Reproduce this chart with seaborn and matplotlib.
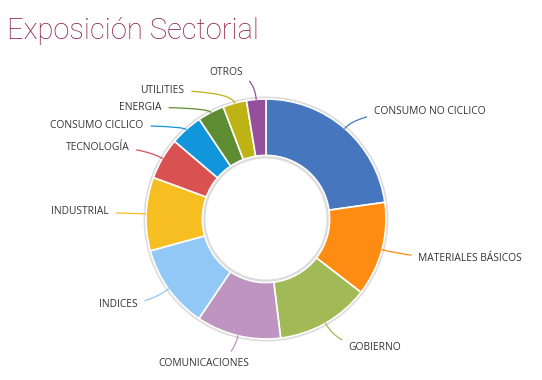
import numpy as np
import seaborn as sns
import matplotlib.pyplot as plt
from matplotlib.patches import Wedge

# sector exposure (percent), clockwise from 12 o'clock
sectors = ["CONSUMO NO CICLICO", "MATERIALES BÁSICOS", "GOBIERNO", "COMUNICACIONES",
           "INDICES", "INDUSTRIAL", "TECNOLOGÍA", "CONSUMO CICLICO", "ENERGIA",
           "UTILITIES", "OTROS"]
weights = [22.8, 12.7, 12.6, 11.4, 11.3, 9.9, 5.6, 4.4, 3.6, 3.2, 2.6]
colors = ["#4677BE", "#FF8C12", "#A2BA55", "#BE95C0", "#91C8F5", "#F7BE22",
          "#D95151", "#1196DB", "#5E8C33", "#BDB315", "#94509A"]

# where each label text sits (data units, radius 1 = outer edge) and its alignment
label_pos = [(0.90, 0.90), (1.27, -0.33), (0.69, -1.07), (-0.14, -1.20),
             (-1.07, -0.71), (-1.31, 0.06), (-1.14, 0.60), (-1.02, 0.78),
             (-0.87, 0.93), (-0.68, 1.07), (-0.19, 1.22)]
label_ha = ["left", "left", "left", "right", "right", "right", "right",
            "right", "right", "right", "right"]

sns.set_theme(style="white")
plt.rcParams["font.family"] = ["Open Sans", "DejaVu Sans"]

fig = plt.figure(figsize=(5.42, 3.80), dpi=100)
fig.patch.set_facecolor("white")
ax = fig.add_axes([116 / 542, 11 / 380, 300 / 542, 300 / 380])
ax.set_xlim(-1.23, 1.23)
ax.set_ylim(-1.23, 1.23)
ax.set_aspect("equal")
ax.axis("off")

# faint shadow on both edges of the ring, like the original
ax.add_patch(Wedge((0, 0), 1.015, 0, 360, width=0.505, color="#dcdcdc", zorder=0))

wedges, _ = ax.pie(weights, colors=colors, startangle=90, counterclock=False,
                   radius=1.0, wedgeprops=dict(width=0.47, edgecolor="white", linewidth=1.2))

for w, name, col, (tx, ty), ha in zip(wedges, sectors, colors, label_pos, label_ha):
    mid = np.deg2rad((w.theta1 + w.theta2) / 2)
    px, py = 1.0 * np.cos(mid), 1.0 * np.sin(mid)
    ax.annotate(name, xy=(px, py), xytext=(tx, ty), ha=ha, va="center",
                fontsize=7.4, color="#333333",
                arrowprops=dict(arrowstyle="-", color=col, lw=0.9,
                                shrinkA=3, shrinkB=0,
                                connectionstyle="angle3,angleA=0,angleB=%d" % int(np.rad2deg(mid))))

fig.text(0.012, 0.955, "Exposición Sectorial", fontsize=21, color="#8B1E3F",
         family=["Roboto", "DejaVu Sans"], fontweight="light", va="top", ha="left")

fig.savefig("out.png", dpi=100, facecolor="white")
